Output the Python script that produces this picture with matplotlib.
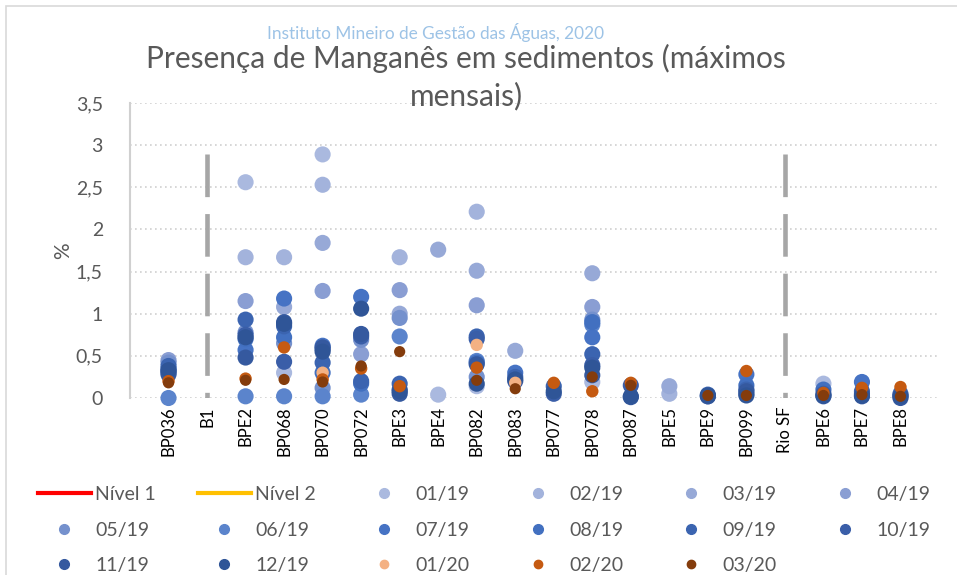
import numpy as np
import matplotlib.pyplot as plt
from matplotlib.patches import Rectangle

plt.rcParams['font.family'] = ['Lato', 'DejaVu Sans']

#######################################
# Data
#######################################
stations = ['BP036', 'B1', 'BPE2', 'BP068', 'BP070', 'BP072', 'BPE3', 'BPE4',
            'BP082', 'BP083', 'BP077', 'BP078', 'BP087', 'BPE5', 'BPE9', 'BP099',
            'Rio SF', 'BPE6', 'BPE7', 'BPE8']
N = None
#            036 B1  BPE2  068   070   072   BPE3  BPE4  082   083   077   078   087   BPE5  BPE9  099   SF  BPE6  BPE7  BPE8
m01_19 = [N,    N,  2.56, 0.30, 2.89, N,    N,    0.04, 0.14, N,    N,    0.19, N,    N,    N,    N,    N,  0.17, N,    N]
m02_19 = [N,    N,  1.67, 1.67, 2.53, N,    1.67, N,    2.21, N,    N,    N,    N,    0.05, N,    N,    N,  N,    N,    N]
m03_19 = [N,    N,  N,    1.08, 1.84, N,    1.00, 1.76, 1.51, 0.56, N,    1.48, N,    0.14, N,    N,    N,  N,    N,    N]
m04_19 = [0.45, N,  1.15, N,    1.27, 0.52, 1.28, N,    1.10, N,    N,    1.08, N,    N,    N,    N,    N,  N,    N,    N]
m05_19 = [0.42, N,  0.78, 0.65, 0.12, 0.69, 0.95, N,    0.25, N,    N,    0.93, N,    N,    N,    N,    N,  N,    N,    N]
m06_19 = [0.00, N,  0.02, 0.02, 0.02, 0.04, 0.73, N,    0.44, N,    N,    0.87, N,    N,    N,    N,    N,  N,    N,    N]
m07_19 = [0.30, N,  0.57, 1.18, 0.62, 1.20, N,    N,    N,    0.30, N,    0.72, N,    N,    N,    0.28, N,  N,    0.19, N]
m08_19 = [0.35, N,  0.70, 0.72, 0.30, 0.17, N,    N,    0.42, N,    N,    0.90, N,    N,    N,    0.15, N,  0.10, N,    N]
m09_19 = [0.38, N,  0.93, 0.85, 0.42, 0.20, 0.17, N,    0.73, 0.25, 0.14, 0.52, N,    N,    0.04, 0.10, N,  N,    0.08, 0.05]
m10_19 = [0.32, N,  0.75, 0.43, 0.58, 0.73, 0.10, N,    0.70, 0.20, 0.05, 0.39, 0.15, N,    0.02, 0.05, N,  0.05, 0.05, 0.03]
m11_19 = [0.28, N,  0.48, 0.90, 0.60, 0.76, 0.05, N,    0.40, N,    N,    0.27, 0.01, N,    0.02, 0.08, N,  0.02, 0.02, 0.00]
m12_19 = [0.33, N,  0.72, 0.88, 0.55, 1.06, 0.08, N,    0.17, 0.22, 0.08, 0.36, 0.02, N,    0.03, 0.03, N,  0.03, 0.03, 0.02]
m01_20 = [N,    N,  N,    N,    0.30, N,    N,    N,    0.63, 0.18, N,    N,    N,    N,    N,    N,    N,  N,    N,    N]
m02_20 = [0.20, N,  0.23, 0.60, 0.22, 0.35, 0.14, N,    0.36, N,    0.18, 0.08, 0.18, N,    N,    0.32, N,  0.06, 0.12, 0.13]
m03_20 = [0.18, N,  0.21, 0.22, 0.19, 0.38, 0.55, N,    0.21, 0.11, N,    0.25, 0.15, N,    0.03, 0.03, N,  0.03, 0.04, 0.02]

months = ['01/19', '02/19', '03/19', '04/19', '05/19', '06/19', '07/19', '08/19',
          '09/19', '10/19', '11/19', '12/19', '01/20', '02/20', '03/20']
series = [m01_19, m02_19, m03_19, m04_19, m05_19, m06_19, m07_19, m08_19,
          m09_19, m10_19, m11_19, m12_19, m01_20, m02_20, m03_20]
colors = ['#aab9df', '#a3b3dc', '#97a9d7', '#8a9ed3', '#7591cd', '#5b84cc',
          '#4673c4', '#4270c0', '#3b64b0', '#3a5ea8', '#35599f', '#2f5597',
          '#f4b183', '#c55a11', '#843c0c']
sizes = [135] * 12 + [80, 80, 65]

sep_x = [2, 17]   # B1, Rio SF
sep_top = 2.9

#######################################
# Plot
#######################################
fig = plt.figure(figsize=(9.57, 5.75), dpi=100)
fig.patches.append(Rectangle((6 / 957, -0.01), 1.0, 1 - 6 / 575 + 0.01,
                             transform=fig.transFigure, fill=False,
                             edgecolor='#d9d9d9', lw=1.2))
ax = fig.add_axes([130 / 957, 1 - 398 / 575, (939 - 130) / 957, 295 / 575])

x = np.arange(1, len(stations) + 1)
for xs in sep_x:
    ln, = ax.plot([xs, xs], [sep_top, 0], color='#a6a6a6', lw=3.3,
                  solid_capstyle='butt', zorder=1)
    ln.set_dashes((9.3, 3.7))
    ln.set_dash_capstyle('butt')

handles = []
h, = ax.plot([], [], color='#ff0000', lw=3, label='Nível 1')
handles.append(h)
h, = ax.plot([], [], color='#ffc000', lw=3, label='Nível 2')
handles.append(h)

for vals, lab, c, s in zip(series, months, colors, sizes):
    v = np.array([np.nan if a is None else a for a in vals], dtype=float)
    ax.scatter(x, v, s=s, color=c, edgecolors='none', zorder=3, clip_on=False)
    h, = ax.plot([], [], 'o', color=c, markersize=7 if s > 100 else 6,
                 linestyle='none', label=lab)
    handles.append(h)

ax.set_xlim(0, 21)
ax.set_ylim(0, 3.5)
ax.set_yticks(np.arange(0, 3.51, 0.5))
ax.set_yticklabels(['0', '0,5', '1', '1,5', '2', '2,5', '3', '3,5'],
                   fontsize=14, color='#595959')
ax.set_xticks(x)
ax.set_xticklabels(stations, rotation=90, fontsize=12, color='#000000')
ax.tick_params(length=0, pad=6)
ax.tick_params(axis='y', pad=19.5)
ax.grid(axis='y', color='#d0d0d0', linestyle=(0, (1, 2)), lw=1.2)
ax.set_axisbelow(True)
for side in ['top', 'right', 'bottom']:
    ax.spines[side].set_visible(False)
ax.spines['left'].set_color('#d0d0d0')
ax.spines['left'].set_linewidth(1.5)
ax.set_ylabel('%', fontsize=15, color='#595959', labelpad=2)

fig.text(436 / 957, 1 - 32 / 575, 'Instituto Mineiro de Gestão das Águas, 2020',
         ha='center', va='center', fontsize=12.4, color='#9dc3e6')
fig.text(466 / 957, 1 - 58 / 575, 'Presença de Manganês em sedimentos (máximos',
         ha='center', va='center', fontsize=21.5, color='#595959')
fig.text(466 / 957, 1 - 96 / 575, 'mensais)',
         ha='center', va='center', fontsize=21.5, color='#595959')

# row-major ordering for a 6-column legend
ncol = 6
order = []
for j in range(ncol):
    order += [i for i in range(j, len(handles), ncol)]
leg = fig.legend([handles[i] for i in order],
                 [handles[i].get_label() for i in order],
                 ncol=ncol, loc='upper left',
                 bbox_to_anchor=(38 / 957, 1 - 492 / 575, (930 - 38) / 957, 0.01),
                 mode='expand', frameon=False, fontsize=14,
                 handlelength=2.7, handletextpad=0.25, labelspacing=0.95,
                 borderaxespad=0, borderpad=0)
for t in leg.get_texts():
    t.set_color('#595959')

fig.savefig('out.png', dpi=100)
